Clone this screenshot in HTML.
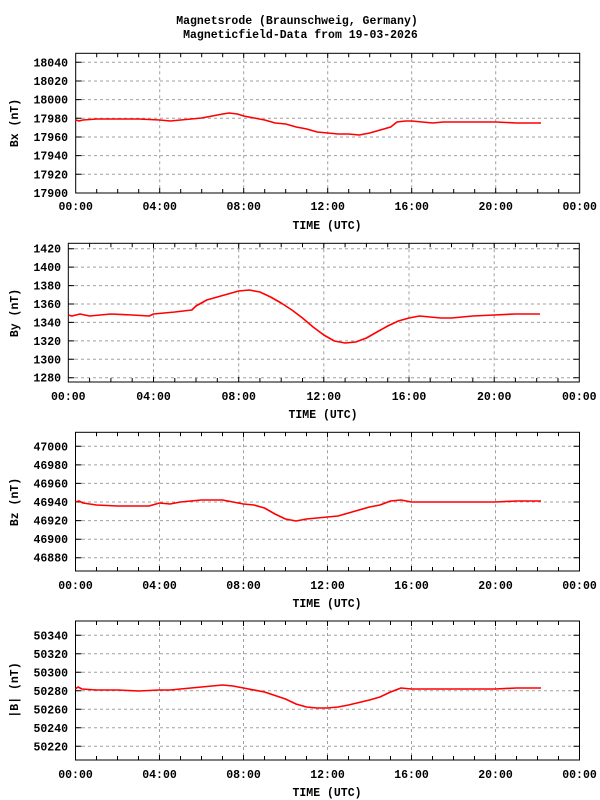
<!DOCTYPE html>
<html><head><meta charset="utf-8"><style>
html,body{margin:0;padding:0;background:#fff;}
svg{display:block;}
text{font-family:"Liberation Mono","DejaVu Sans Mono",monospace;font-weight:bold;font-size:11.5px;fill:#000;}
.g{stroke:#a0a0a0;stroke-width:1;stroke-dasharray:3,3;fill:none;}
.b{stroke:#000;stroke-width:1;fill:none;}
.d{stroke:#ff0000;stroke-width:1.6;fill:none;stroke-linejoin:round;}
</style></head><body>
<svg width="600" height="800" viewBox="0 0 600 800" xmlns="http://www.w3.org/2000/svg">
<text x="297" y="24" text-anchor="middle">Magnetsrode (Braunschweig, Germany)</text>
<text x="297" y="38" text-anchor="middle">&#160;Magneticfield-Data from 19-03-2026</text>

<!-- Panel 1 -->
<g>
<path class="g" d="M76 62.3H579M76 81H579M76 99.6H579M76 118.3H579M76 137H579M76 155.6H579M76 174.3H579M159.7 53.3V193M243.7 53.3V193M327.7 53.3V193M411.7 53.3V193M495.7 53.3V193"/>
<rect class="b" x="75.7" y="53.3" width="504" height="139.7"/>
<path class="b" d="M75.7 62.3h6M75.7 81h6M75.7 99.6h6M75.7 118.3h6M75.7 137h6M75.7 155.6h6M75.7 174.3h6M579.7 62.3h-6M579.7 81h-6M579.7 99.6h-6M579.7 118.3h-6M579.7 137h-6M579.7 155.6h-6M579.7 174.3h-6
M96.7 193v-4M117.7 193v-4M138.7 193v-4M159.7 193v-5M180.7 193v-4M201.7 193v-4M222.7 193v-4M243.7 193v-5M264.7 193v-4M285.7 193v-4M306.7 193v-4M327.7 193v-5M348.7 193v-4M369.7 193v-4M390.7 193v-4M411.7 193v-5M432.7 193v-4M453.7 193v-4M474.7 193v-4M495.7 193v-5M516.7 193v-4M537.7 193v-4M558.7 193v-4
M96.7 53.3v4M117.7 53.3v4M138.7 53.3v4M159.7 53.3v5M180.7 53.3v4M201.7 53.3v4M222.7 53.3v4M243.7 53.3v5M264.7 53.3v4M285.7 53.3v4M306.7 53.3v4M327.7 53.3v5M348.7 53.3v4M369.7 53.3v4M390.7 53.3v4M411.7 53.3v5M432.7 53.3v4M453.7 53.3v4M474.7 53.3v4M495.7 53.3v5M516.7 53.3v4M537.7 53.3v4M558.7 53.3v4"/>
<g text-anchor="end">
<text x="68" y="66.3">18040</text><text x="68" y="85">18020</text><text x="68" y="103.6">18000</text><text x="68" y="122.3">17980</text><text x="68" y="141">17960</text><text x="68" y="159.6">17940</text><text x="68" y="178.3">17920</text><text x="68" y="197">17900</text>
</g>
<g text-anchor="middle">
<text x="75.7" y="210">00:00</text><text x="159.7" y="210">04:00</text><text x="243.7" y="210">08:00</text><text x="327.7" y="210">12:00</text><text x="411.7" y="210">16:00</text><text x="495.7" y="210">20:00</text><text x="579.7" y="210">00:00</text>
<text x="327" y="229">TIME (UTC)</text>
</g>
<text transform="translate(18,123) rotate(-90)" text-anchor="middle">Bx (nT)</text>
<polyline class="d" points="75.7,120 79,121 83,120 96.7,119 117.7,119 138.7,119 159.7,120 170.2,121 180.7,120 201.7,118 212.2,116 222.7,114 229,113 237.4,114 243.7,116 254.2,118 264.7,120 275.2,123 285.7,124 296.2,127 306.7,129 317.2,132 327.7,133 338.2,134 348.7,134 359.2,135 369.7,133 380.2,130 390.7,127 397,122 405.4,121 411.7,121 422.2,122 432.7,123 443.2,122 453.7,122 495.7,122 516.7,123 541,123"/>
</g>

<!-- Panel 2 -->
<g>
<path class="g" d="M69 248.7H579M69 267.1H579M69 285.6H579M69 304H579M69 322.4H579M69 340.9H579M69 359.3H579M69 377.7H579M153.5 243.3V382M238.7 243.3V382M323.8 243.3V382M409 243.3V382M494.2 243.3V382"/>
<rect class="b" x="68.3" y="243.3" width="511" height="138.7"/>
<path class="b" d="M68.3 248.7h6M68.3 267.1h6M68.3 285.6h6M68.3 304h6M68.3 322.4h6M68.3 340.9h6M68.3 359.3h6M68.3 377.7h6M579.3 248.7h-6M579.3 267.1h-6M579.3 285.6h-6M579.3 304h-6M579.3 322.4h-6M579.3 340.9h-6M579.3 359.3h-6M579.3 377.7h-6
M89.6 382v-4M110.9 382v-4M132.2 382v-4M153.5 382v-5M174.8 382v-4M196 382v-4M217.3 382v-4M238.7 382v-5M259.9 382v-4M281.2 382v-4M302.5 382v-4M323.8 382v-5M345.1 382v-4M366.4 382v-4M387.7 382v-4M409 382v-5M430.2 382v-4M451.5 382v-4M472.8 382v-4M494.2 382v-5M515.4 382v-4M536.7 382v-4M558 382v-4
M89.6 243.3v4M110.9 243.3v4M132.2 243.3v4M153.5 243.3v5M174.8 243.3v4M196 243.3v4M217.3 243.3v4M238.7 243.3v5M259.9 243.3v4M281.2 243.3v4M302.5 243.3v4M323.8 243.3v5M345.1 243.3v4M366.4 243.3v4M387.7 243.3v4M409 243.3v5M430.2 243.3v4M451.5 243.3v4M472.8 243.3v4M494.2 243.3v5M515.4 243.3v4M536.7 243.3v4M558 243.3v4"/>
<g text-anchor="end">
<text x="61" y="252.7">1420</text><text x="61" y="271.1">1400</text><text x="61" y="289.6">1380</text><text x="61" y="308">1360</text><text x="61" y="326.4">1340</text><text x="61" y="344.9">1320</text><text x="61" y="363.3">1300</text><text x="61" y="381.7">1280</text>
</g>
<g text-anchor="middle">
<text x="68.3" y="400">00:00</text><text x="153.5" y="400">04:00</text><text x="238.7" y="400">08:00</text><text x="323.8" y="400">12:00</text><text x="409" y="400">16:00</text><text x="494.2" y="400">20:00</text><text x="579.3" y="400">00:00</text>
<text x="323" y="418">TIME (UTC)</text>
</g>
<text transform="translate(18,313) rotate(-90)" text-anchor="middle">By (nT)</text>
<polyline class="d" points="68.3,315 72,316 76,315 80,314 89.6,316 110.9,314 132.2,315 149.2,316 153.5,314 174.8,312 191.8,310 196,306 206.7,300 217.3,297 228,294 238.6,291 249.3,290 259.9,292 270.6,297 281.2,303 291.9,310 302.5,318 313.1,327 323.8,335 334.4,341 345.1,343 355.7,342 366.4,338 377,332 387.7,326 398.3,321 409,318 419.6,316 430.2,317 440.9,318 451.5,318 472.8,316 494.1,315 515.4,314 540,314"/>
</g>

<!-- Panel 3 -->
<g>
<path class="g" d="M76 446.3H579M76 464.9H579M76 483.4H579M76 502H579M76 520.6H579M76 539.2H579M76 557.7H579M159.5 432.3V571M243.5 432.3V571M327.5 432.3V571M411.5 432.3V571M495.5 432.3V571"/>
<rect class="b" x="75.5" y="432.3" width="504" height="138.7"/>
<path class="b" d="M75.5 446.3h6M75.5 464.9h6M75.5 483.4h6M75.5 502h6M75.5 520.6h6M75.5 539.2h6M75.5 557.7h6M579.5 446.3h-6M579.5 464.9h-6M579.5 483.4h-6M579.5 502h-6M579.5 520.6h-6M579.5 539.2h-6M579.5 557.7h-6
M96.5 571v-4M117.5 571v-4M138.5 571v-4M159.5 571v-5M180.5 571v-4M201.5 571v-4M222.5 571v-4M243.5 571v-5M264.5 571v-4M285.5 571v-4M306.5 571v-4M327.5 571v-5M348.5 571v-4M369.5 571v-4M390.5 571v-4M411.5 571v-5M432.5 571v-4M453.5 571v-4M474.5 571v-4M495.5 571v-5M516.5 571v-4M537.5 571v-4M558.5 571v-4
M96.5 432.3v4M117.5 432.3v4M138.5 432.3v4M159.5 432.3v5M180.5 432.3v4M201.5 432.3v4M222.5 432.3v4M243.5 432.3v5M264.5 432.3v4M285.5 432.3v4M306.5 432.3v4M327.5 432.3v5M348.5 432.3v4M369.5 432.3v4M390.5 432.3v4M411.5 432.3v5M432.5 432.3v4M453.5 432.3v4M474.5 432.3v4M495.5 432.3v5M516.5 432.3v4M537.5 432.3v4M558.5 432.3v4"/>
<g text-anchor="end">
<text x="68" y="450.3">47000</text><text x="68" y="468.9">46980</text><text x="68" y="487.4">46960</text><text x="68" y="506">46940</text><text x="68" y="524.6">46920</text><text x="68" y="543.2">46900</text><text x="68" y="561.7">46880</text>
</g>
<g text-anchor="middle">
<text x="75.5" y="589">00:00</text><text x="159.5" y="589">04:00</text><text x="243.5" y="589">08:00</text><text x="327.5" y="589">12:00</text><text x="411.5" y="589">16:00</text><text x="495.5" y="589">20:00</text><text x="579.5" y="589">00:00</text>
<text x="327" y="607">TIME (UTC)</text>
</g>
<text transform="translate(18,502) rotate(-90)" text-anchor="middle">Bz (nT)</text>
<polyline class="d" points="75.5,502 79,501 83,503 96.5,505 117.5,506 138.5,506 149,506 159.5,503 170,504 180.5,502 201.5,500 222.5,500 233,502 243.5,504 254,505 264.5,508 275,514 285.5,519 296,521 306.5,519 327.5,517 338,516 348.5,513 359,510 369.5,507 380,505 390.5,501 401,500 411.5,502 432.5,502 453.5,502 474.5,502 495.5,502 516.5,501 541,501"/>
</g>

<!-- Panel 4 -->
<g>
<path class="g" d="M76 635.3H579M76 653.8H579M76 672.3H579M76 690.8H579M76 709.3H579M76 727.8H579M76 746.3H579M159.5 621V760M243.5 621V760M327.5 621V760M411.5 621V760M495.5 621V760"/>
<rect class="b" x="75.5" y="621" width="504" height="139"/>
<path class="b" d="M75.5 635.3h6M75.5 653.8h6M75.5 672.3h6M75.5 690.8h6M75.5 709.3h6M75.5 727.8h6M75.5 746.3h6M579.5 635.3h-6M579.5 653.8h-6M579.5 672.3h-6M579.5 690.8h-6M579.5 709.3h-6M579.5 727.8h-6M579.5 746.3h-6
M96.5 760v-4M117.5 760v-4M138.5 760v-4M159.5 760v-5M180.5 760v-4M201.5 760v-4M222.5 760v-4M243.5 760v-5M264.5 760v-4M285.5 760v-4M306.5 760v-4M327.5 760v-5M348.5 760v-4M369.5 760v-4M390.5 760v-4M411.5 760v-5M432.5 760v-4M453.5 760v-4M474.5 760v-4M495.5 760v-5M516.5 760v-4M537.5 760v-4M558.5 760v-4
M96.5 621v4M117.5 621v4M138.5 621v4M159.5 621v5M180.5 621v4M201.5 621v4M222.5 621v4M243.5 621v5M264.5 621v4M285.5 621v4M306.5 621v4M327.5 621v5M348.5 621v4M369.5 621v4M390.5 621v4M411.5 621v5M432.5 621v4M453.5 621v4M474.5 621v4M495.5 621v5M516.5 621v4M537.5 621v4M558.5 621v4"/>
<g text-anchor="end">
<text x="68" y="639.3">50340</text><text x="68" y="657.8">50320</text><text x="68" y="676.3">50300</text><text x="68" y="694.8">50280</text><text x="68" y="713.3">50260</text><text x="68" y="731.8">50240</text><text x="68" y="750.3">50220</text>
</g>
<g text-anchor="middle">
<text x="75.5" y="778">00:00</text><text x="159.5" y="778">04:00</text><text x="243.5" y="778">08:00</text><text x="327.5" y="778">12:00</text><text x="411.5" y="778">16:00</text><text x="495.5" y="778">20:00</text><text x="579.5" y="778">00:00</text>
<text x="327" y="796">TIME (UTC)</text>
</g>
<text transform="translate(18,690) rotate(-90)" text-anchor="middle">|B| (nT)</text>
<polyline class="d" points="75.5,689 78,687 82,689 96.5,690 117.5,690 138.5,691 159.5,690 170,690 180.5,689 201.5,687 222.5,685 233,686 243.5,688 264.5,692 285.5,699 296,704 306.5,707 317,708 327.5,708 338,707 348.5,705 369.5,700 380,697 390.5,692 401,688 411.5,689 432.5,689 453.5,689 495.5,689 516.5,688 541,688"/>
</g>
</svg>
</body></html>
